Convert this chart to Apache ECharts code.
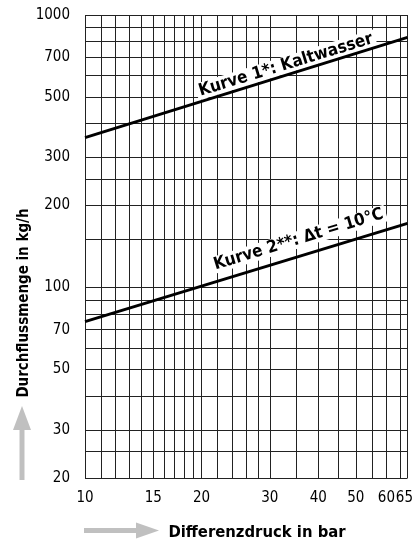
<!DOCTYPE html>
<html>
<head>
<meta charset="utf-8">
<script src="https://cdn.jsdelivr.net/npm/echarts@6/dist/echarts.min.js"></script>
<style>html,body{margin:0;padding:0;background:#fff}#c{width:416px;height:541px}</style>
</head>
<body>
<div id="c"></div>
<script>
// ---- data ----
const xRange = [10, 68];
const yRange = [20, 1000];
const xGridLines = [10, 11, 12, 13, 14, 15, 16, 17, 18, 19, 20, 22, 24, 26, 28, 30, 35, 40, 45, 50, 55, 60, 65, 68];
const yGridLines = [20, 25, 30, 40, 50, 60, 70, 80, 90, 100, 150, 200, 250, 300, 400, 500, 600, 700, 800, 900, 1000];
const xTickLabels = [10, 15, 20, 30, 40, 50, 60, 65];
const yTickLabels = [20, 30, 50, 70, 100, 200, 300, 500, 700, 1000];
const pressure = [10, 68];
const curve1 = [355, 828];   // Kurve 1*: Kaltwasser
const curve2 = [75, 172];    // Kurve 2**: Δt = 10°C
const curve1Label = 'Kurve 1*: Kaltwasser';
const curve2Label = 'Kurve 2**: \u0394t = 10\u00B0C';
const curve1LabelAt = [33, 655];
const curve2LabelAt = [35.6, 150];

const FONT = '"DejaVu Sans Condensed", "DejaVu Sans", sans-serif';

const chart = echarts.init(document.getElementById('c'), null, {renderer: 'canvas'});

function lineLabel(text, at) {
  return {
    symbol: 'circle', symbolSize: 1,
    itemStyle: {color: 'rgba(0,0,0,0)'},
    label: {
      show: true, position: 'inside', rotate: 17,
      formatter: text,
      color: '#000', fontWeight: 'bold', fontSize: 17, fontFamily: FONT,
      backgroundColor: '#fff', padding: [0, 3]
    },
    data: [{coord: at}]
  };
}

chart.setOption({
  animation: false,
  grid: {left: 85, right: 7, top: 15, bottom: 63},
  xAxis: {
    type: 'log', logBase: 10, min: xRange[0], max: xRange[1],
    axisLine: {show: false}, axisTick: {show: false}, splitLine: {show: false}, minorSplitLine: {show: false},
    axisLabel: {
      customValues: xTickLabels, margin: 13, showMinLabel: true, showMaxLabel: true, hideOverlap: false,
      color: '#000', fontSize: 15, fontFamily: FONT,
      formatter: v => (v === xTickLabels[xTickLabels.length - 1] ? '{r|' + v + '}' : String(v)),
      rich: {r: {padding: [0, 0, 0, 9], fontSize: 15, fontFamily: FONT, color: '#000'}}
    }
  },
  yAxis: {
    type: 'log', logBase: 10, min: yRange[0], max: yRange[1],
    axisLine: {show: false}, axisTick: {show: false}, splitLine: {show: false},
    axisLabel: {
      customValues: yTickLabels, margin: 15, showMinLabel: true, showMaxLabel: true,
      color: '#000', fontSize: 15, fontFamily: FONT,
      formatter: v => String(v)
    }
  },
  graphic: [
    {type: 'text', x: 24, y: 303, rotation: Math.PI / 2,
     style: {text: 'Durchflussmenge in kg/h', fill: '#000', font: 'bold 15px ' + FONT, textAlign: 'center', textVerticalAlign: 'middle'}},
    {type: 'text', x: 257, y: 533,
     style: {text: 'Differenzdruck in bar', fill: '#000', font: 'bold 16.5px ' + FONT, textAlign: 'center', textVerticalAlign: 'middle'}},
    {type: 'rect', shape: {x: 19.5, y: 429, width: 5, height: 51}, style: {fill: '#c0c0c0'}},
    {type: 'polygon', shape: {points: [[13, 430], [31, 430], [22, 406]]}, style: {fill: '#c0c0c0'}},
    {type: 'rect', shape: {x: 84, y: 528, width: 53, height: 5}, style: {fill: '#c0c0c0'}},
    {type: 'polygon', shape: {points: [[136, 522.5], [136, 538.5], [159, 530.5]]}, style: {fill: '#c0c0c0'}}
  ],
  series: [
    {
      type: 'line', data: [], silent: true,
      markLine: {
        silent: true, symbol: ['none', 'none'], label: {show: false},
        lineStyle: {color: '#222', width: 1, type: 'solid'},
        emphasis: {disabled: true},
        data: xGridLines.map(v => ({xAxis: v})).concat(yGridLines.map(v => ({yAxis: v})))
      }
    },
    {
      type: 'line', name: curve1Label, symbol: 'none',
      lineStyle: {color: '#000', width: 3},
      data: pressure.map((p, i) => [p, curve1[i]]),
      markPoint: lineLabel(curve1Label, curve1LabelAt),
      z: 5
    },
    {
      type: 'line', name: curve2Label, symbol: 'none',
      lineStyle: {color: '#000', width: 3},
      data: pressure.map((p, i) => [p, curve2[i]]),
      markPoint: lineLabel(curve2Label, curve2LabelAt),
      z: 5
    }
  ]
});
</script>
</body>
</html>
